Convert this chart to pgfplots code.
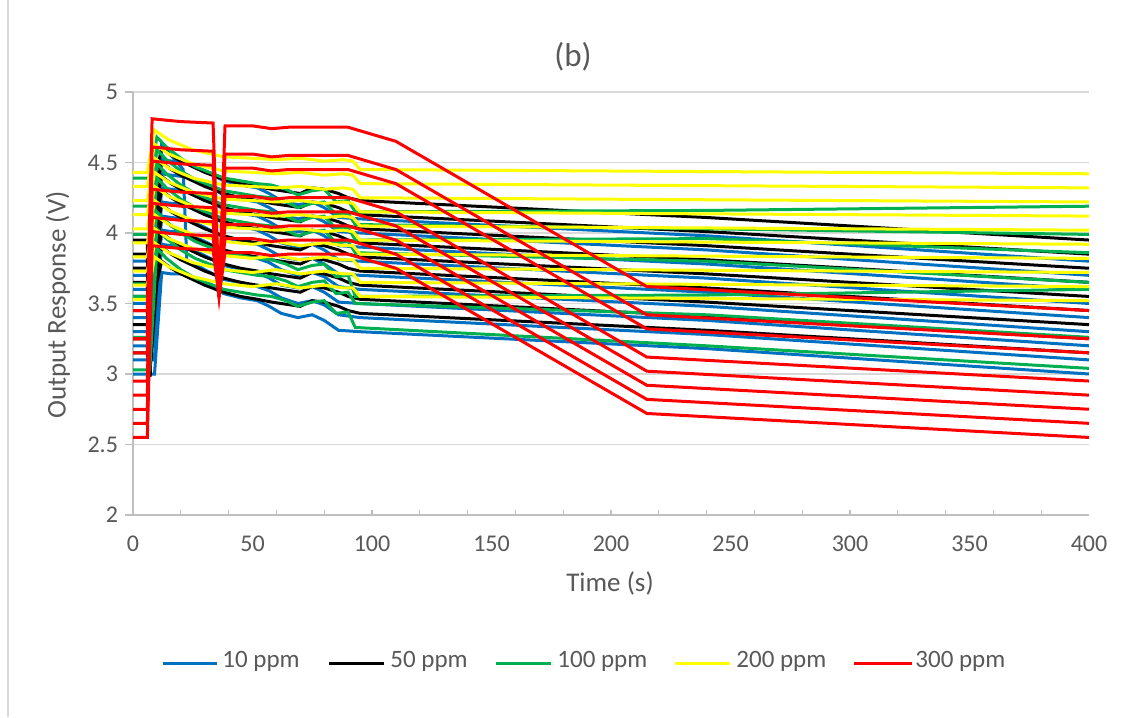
\documentclass[border=0pt]{standalone}
\usepackage{fontspec}
\setmainfont{Carlito}
\usepackage{pgfplots}
\usepackage{pgfplotstable}
\pgfplotsset{compat=1.18}
\definecolor{cblue}{HTML}{0070C0}
\definecolor{cgreen}{HTML}{00B050}
\definecolor{cyellow}{HTML}{FFFF00}
\definecolor{cred}{HTML}{FF0000}
\definecolor{gridgray}{HTML}{D9D9D9}
\definecolor{axisgray}{HTML}{BFBFBF}
\definecolor{txtgray}{HTML}{595959}

% 10 ppm
\pgfplotstableread{
x y1 y2 y3 y4 y5 y6 y7 y8 y9
0 3.00 3.10 3.20 3.30 3.40 3.50 3.60 3.70 3.80
9 3.00 3.10 3.20 3.30 3.40 3.50 3.60 3.70 3.80
12 3.72 4.63 3.92 4.02 4.12 4.22 4.32 4.42 4.52
16 3.71 4.55 3.91 4.01 4.11 4.21 4.31 4.41 4.51
21 3.71 4.45 3.90 4.01 4.10 4.21 4.30 4.40 4.50
22.5 3.71 3.81 3.90 4.00 4.10 4.20 4.30 4.40 4.50
30 3.64 3.74 3.84 3.94 4.04 4.14 4.24 4.34 4.44
38 3.57 3.67 3.77 3.87 3.97 4.07 4.17 4.27 4.37
45 3.54 3.65 3.74 3.85 3.94 4.05 4.14 4.24 4.34
52 3.52 3.62 3.72 3.82 3.92 4.02 4.12 4.22 4.32
57 3.48 3.59 3.68 3.79 3.88 3.98 4.08 4.18 4.28
62 3.43 3.54 3.63 3.74 3.83 3.93 4.03 4.13 4.23
69 3.40 3.50 3.61 3.70 3.81 3.90 4.01 4.10 4.20
75 3.42 3.52 3.62 3.72 3.82 3.92 4.02 4.12 4.22
80 3.38 3.49 3.58 3.69 3.78 3.88 3.98 4.08 4.18
86 3.31 3.42 3.51 3.62 3.71 3.81 3.91 4.01 4.11
95 3.30 3.40 3.50 3.60 3.70 3.80 3.90 4.00 4.10
240 3.18 3.28 3.38 3.48 3.58 3.68 3.78 3.88 3.98
400 3.00 3.10 3.20 3.30 3.40 3.50 3.60 3.70 3.80
}\bluetab

% 50 ppm
\pgfplotstableread{
x y1 y2 y3 y4 y5 y6 y7 y8 y9
0 3.15 3.25 3.35 3.45 3.55 3.65 3.75 3.85 3.95
6 3.15 3.25 3.35 3.45 3.55 3.65 3.75 3.85 3.95
7 3.00 3.00 3.00 3.00 2.99 2.99 2.98 2.98 2.98
10 3.65 3.75 3.85 3.95 4.05 4.15 4.25 4.35 4.45
12 3.80 3.90 4.00 4.10 4.20 4.30 4.40 4.50 4.60
16 3.75 3.85 3.95 4.05 4.15 4.25 4.35 4.45 4.55
20 3.71 3.81 3.91 4.01 4.11 4.21 4.31 4.41 4.51
25 3.67 3.77 3.87 3.97 4.07 4.17 4.27 4.37 4.47
30 3.63 3.73 3.83 3.93 4.03 4.13 4.23 4.33 4.43
38 3.58 3.68 3.78 3.88 3.98 4.08 4.18 4.28 4.38
45 3.55 3.65 3.75 3.85 3.95 4.05 4.15 4.25 4.35
52 3.53 3.63 3.73 3.83 3.93 4.03 4.13 4.23 4.33
58 3.51 3.61 3.71 3.81 3.91 4.01 4.11 4.21 4.31
66 3.49 3.59 3.69 3.79 3.89 3.99 4.09 4.19 4.29
70 3.48 3.58 3.68 3.78 3.88 3.98 4.08 4.18 4.28
75 3.52 3.62 3.72 3.82 3.92 4.02 4.12 4.22 4.32
80 3.51 3.61 3.71 3.81 3.91 4.01 4.11 4.21 4.31
86 3.48 3.58 3.68 3.78 3.88 3.98 4.08 4.18 4.28
90 3.45 3.55 3.65 3.75 3.85 3.95 4.05 4.15 4.25
95 3.43 3.53 3.63 3.73 3.83 3.93 4.03 4.13 4.23
240 3.31 3.41 3.51 3.61 3.71 3.81 3.91 4.01 4.11
400 3.15 3.25 3.35 3.45 3.55 3.65 3.75 3.85 3.95
}\blacktab

% 100 ppm
\pgfplotstableread{
x y1 y2 y3 y4 y5 y6 y7
0 4.39 4.19 3.99 3.64 3.55 3.26 3.03
7 4.39 4.19 3.99 3.64 3.55 3.26 3.03
10 4.68 4.59 4.49 4.39 4.15 4.03 3.89
14 4.61 4.52 4.42 4.32 4.08 3.96 3.82
20 4.53 4.44 4.34 4.24 4.00 3.88 3.74
26 4.47 4.38 4.28 4.18 3.94 3.82 3.68
32 4.43 4.34 4.24 4.14 3.90 3.78 3.64
38 4.39 4.30 4.20 4.10 3.86 3.74 3.60
45 4.37 4.28 4.18 4.08 3.84 3.72 3.58
52 4.35 4.26 4.16 4.06 3.82 3.70 3.56
58 4.34 4.25 4.15 4.05 3.81 3.69 3.55
64 4.31 4.22 4.12 4.02 3.78 3.66 3.52
69 4.27 4.18 4.08 3.98 3.74 3.62 3.48
75 4.30 4.21 4.11 4.01 3.77 3.65 3.51
80 4.31 4.22 4.12 4.02 3.78 3.66 3.52
85 4.22 4.13 4.03 3.93 3.69 3.57 3.43
90 4.23 4.14 4.04 3.94 3.70 3.58 3.44
93 4.15 4.06 3.95 3.86 3.55 3.50 3.33
240 4.16 4.03 3.96 3.80 3.56 3.42 3.20
400 4.19 3.99 3.86 3.65 3.60 3.26 3.04
}\greentab

% 200 ppm
\pgfplotstableread{
x y1 y2 y3 y4 y5 y6 y7 y8 y9 y10
0 4.43 4.33 4.23 4.13 4.03 3.93 3.83 3.73 3.63 3.53
6 4.43 4.33 4.23 4.13 4.03 3.93 3.83 3.73 3.63 3.53
9 4.73 4.63 4.53 4.43 4.33 4.23 4.13 4.03 3.93 3.83
15 4.66 4.56 4.46 4.36 4.26 4.16 4.06 3.96 3.86 3.76
25 4.59 4.49 4.39 4.29 4.19 4.09 3.99 3.89 3.79 3.69
38 4.54 4.44 4.34 4.24 4.14 4.04 3.94 3.84 3.74 3.64
50 4.53 4.43 4.33 4.23 4.13 4.03 3.92 3.82 3.72 3.62
60 4.52 4.42 4.32 4.22 4.12 4.02 3.94 3.84 3.74 3.64
70 4.53 4.43 4.33 4.23 4.13 4.03 3.91 3.81 3.71 3.61
80 4.51 4.41 4.31 4.21 4.11 4.01 3.93 3.83 3.73 3.63
88 4.52 4.42 4.32 4.22 4.12 4.02 3.91 3.81 3.71 3.61
92 4.51 4.41 4.31 4.21 4.11 4.01 3.91 3.81 3.71 3.61
95 4.45 4.35 4.25 4.15 4.05 3.95 3.85 3.75 3.65 3.55
400 4.42 4.32 4.22 4.12 4.02 3.92 3.82 3.72 3.62 3.52
}\yellowtab

% 300 ppm
\pgfplotstableread{
x y1 y2 y3 y4 y5 y6 y7 y8
0 3.45 3.25 3.15 2.95 2.85 2.75 2.65 2.55
6 3.45 3.25 3.15 2.95 2.85 2.75 2.65 2.55
8 4.81 4.61 4.51 4.31 4.21 4.11 4.01 3.91
20 4.79 4.59 4.49 4.29 4.19 4.09 3.99 3.89
33.5 4.78 4.58 4.48 4.28 4.18 4.08 3.98 3.88
36 3.55 3.55 3.55 3.55 3.55 3.55 3.55 3.55
38.5 4.76 4.56 4.46 4.26 4.16 4.06 3.96 3.86
50 4.76 4.56 4.46 4.26 4.16 4.06 3.96 3.86
58 4.74 4.54 4.44 4.24 4.14 4.04 3.94 3.84
65 4.75 4.55 4.45 4.25 4.15 4.05 3.95 3.85
80 4.75 4.55 4.45 4.25 4.15 4.05 3.95 3.85
90 4.75 4.55 4.45 4.25 4.15 4.05 3.95 3.85
110 4.65 4.45 4.35 4.15 4.05 3.95 3.85 3.75
215 3.62 3.42 3.32 3.12 3.02 2.92 2.82 2.72
400 3.45 3.25 3.15 2.95 2.85 2.75 2.65 2.55
}\redtab

\begin{document}
\begin{tikzpicture}
\path[use as bounding box] (0,0) rectangle (563.5pt,358.5pt);
\fill[white] (0,0) rectangle (563.5pt,358.5pt);
\draw[gridgray, line width=0.6pt] (4pt,0) -- (4pt,358.5pt);
\begin{axis}[
  at={(66.5pt,101pt)}, anchor=south west,
  scale only axis, width=478pt, height=211.5pt,
  xmin=0, xmax=400, ymin=2, ymax=5,
  axis x line*=bottom, axis y line*=left,
  axis line style={-, draw=axisgray, line width=0.7pt},
  xtick={0,50,...,400},
  minor xtick={20,40,...,380},
  ytick={2,2.5,...,5},
  ymajorgrids, major grid style={draw=gridgray, line width=0.6pt},
  tick align=outside,
  major tick length=4pt, minor tick length=2.5pt,
  major x tick style={draw=none},
  minor x tick style={draw=axisgray, line width=0.6pt, yshift=2.5pt},
  major y tick style={draw=axisgray, line width=0.6pt},
  tick label style={font=\fontsize{12}{14}\selectfont, text=txtgray},
  /pgf/number format/assume math mode=true,
  x tick label style={yshift=-3pt},
  clip=false,
]
\pgfplotsinvokeforeach{y1,y2,y3,y4,y5,y6,y7,y8,y9}{
  \addplot[cblue, line width=1.5pt] table[x=x, y=#1]{\bluetab};
}
\pgfplotsinvokeforeach{y1,y2,y3,y4,y5,y6,y7,y8,y9}{
  \addplot[black, line width=1.5pt] table[x=x, y=#1]{\blacktab};
}
\pgfplotsinvokeforeach{y1,y2,y3,y4,y5,y6,y7}{
  \addplot[cgreen, line width=1.5pt] table[x=x, y=#1]{\greentab};
}
\pgfplotsinvokeforeach{y1,y2,y3,y4,y5,y6,y7,y8,y9,y10}{
  \addplot[cyellow, line width=1.5pt] table[x=x, y=#1]{\yellowtab};
}
\pgfplotsinvokeforeach{y1,y2,y3,y4,y5,y6,y7,y8}{
  \addplot[cred, line width=1.5pt] table[x=x, y=#1]{\redtab};
}
\end{axis}
\node[font=\fontsize{16.5}{19}\selectfont, text=txtgray] at (286.5pt,330pt) {(b)};
\node[font=\fontsize{13.5}{16}\selectfont, text=txtgray] at (305pt,67pt) {Time (s)};
\node[font=\fontsize{13.5}{16}\selectfont, text=txtgray, rotate=90] at (29pt,206pt) {Output Response (V)};
% legend
\begin{scope}[every node/.style={font=\fontsize{12.5}{14}\selectfont, text=txtgray, anchor=mid west, inner sep=0pt}]
\draw[cblue, line width=1.5pt] (81.5pt,27pt) -- (108.5pt,27pt);
\node at (111pt,27pt) {10 ppm};
\draw[black, line width=1.5pt] (164.5pt,27pt) -- (192pt,27pt);
\node at (195pt,27pt) {50 ppm};
\draw[cgreen, line width=1.5pt] (248pt,27pt) -- (275.5pt,27pt);
\node at (278.5pt,27pt) {100 ppm};
\draw[cyellow, line width=1.5pt] (337.5pt,27pt) -- (365pt,27pt);
\node at (368pt,27pt) {200 ppm};
\draw[cred, line width=1.5pt] (427pt,27pt) -- (456pt,27pt);
\node at (457.5pt,27pt) {300 ppm};
\end{scope}
\end{tikzpicture}
\end{document}
